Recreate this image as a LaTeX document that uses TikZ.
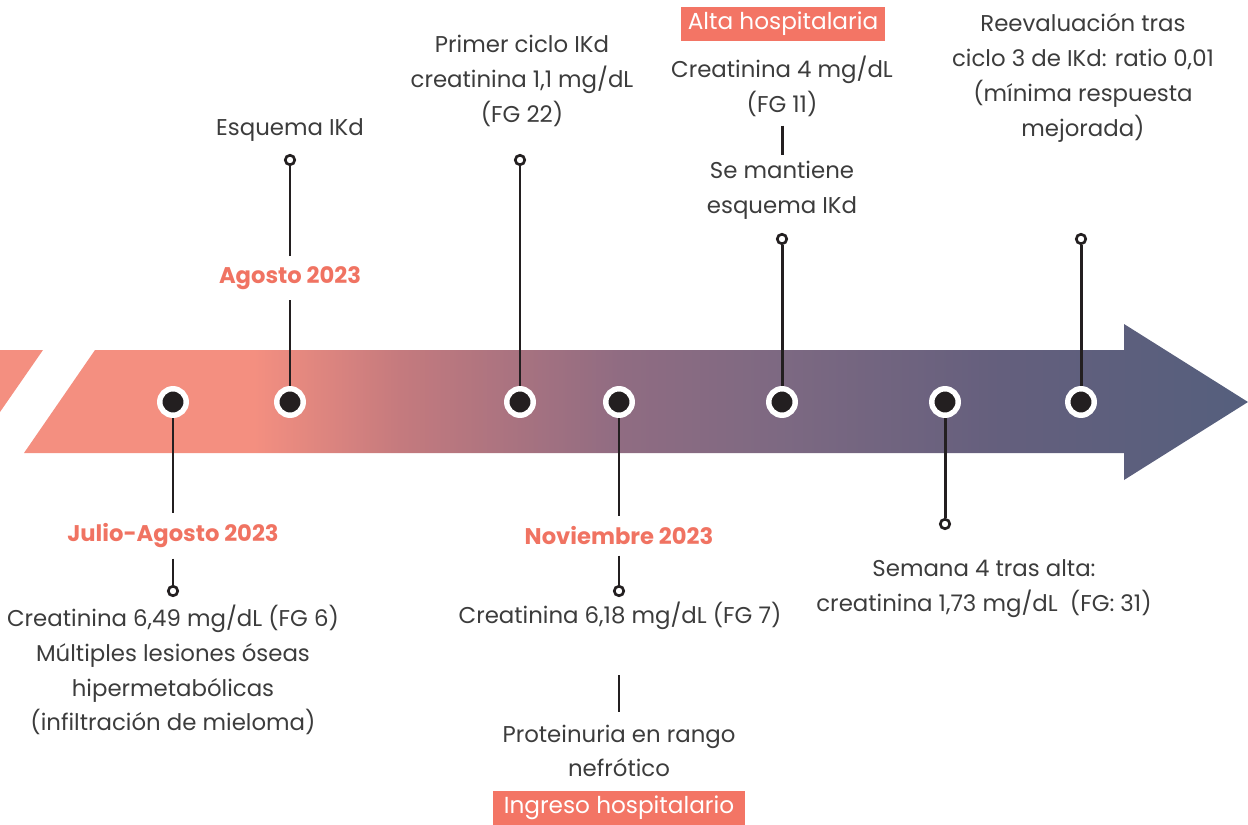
\documentclass[tikz,border=0pt]{standalone}
\usepackage{fontspec}
\setmainfont{Poppins}
\usetikzlibrary{backgrounds}

\definecolor{salmon}{RGB}{244,143,128}
\definecolor{rose}{RGB}{196,122,126}
\definecolor{mauve}{RGB}{144,108,130}
\definecolor{plum}{RGB}{125,105,130}
\definecolor{dusk}{RGB}{100,95,125}
\definecolor{slate}{RGB}{85,95,125}
\definecolor{ink}{RGB}{35,31,32}
\definecolor{txtgray}{RGB}{60,60,60}
\definecolor{datecol}{RGB}{240,115,98}
\definecolor{tagcol}{RGB}{243,117,101}

\pgfdeclarehorizontalshading{band}{100bp}{color(0bp)=(salmon); color(34.4bp)=(salmon); color(40.4bp)=(rose); color(49.3bp)=(mauve); color(55.9bp)=(plum); color(64.9bp)=(dusk); color(75bp)=(slate); color(100bp)=(slate)}

\tikzset{
  dot/.style={circle, draw=white, line width=3.1pt, fill=ink, minimum size=0.53cm, inner sep=0pt},
  tip/.style={circle, draw=ink, line width=1.5pt, fill=white, minimum size=0.19cm, inner sep=0pt},
  txt/.style={text=txtgray, font=\fontsize{13}{19.8}\selectfont, align=center, inner sep=0pt},
  date/.style={text=datecol, font=\fontsize{12.9}{14}\selectfont\bfseries, inner xsep=0pt, inner ysep=0.2cm},
  tag/.style={fill=tagcol, text=white, font=\fontsize{13.2}{14}\selectfont, minimum height=0.68cm, inner sep=0pt},
  stem/.style={draw=ink, line width=1.7pt}
}

\begin{document}
\begin{tikzpicture}[x=0.02cm, y=-0.02cm]
\useasboundingbox (0,0) rectangle (1248,825);

% band
\begin{scope}[on background layer]
\fill[salmon] (0,350) -- (43,350) -- (0,412) -- cycle;
\shade[shading=band] (95,350) -- (1124,350) -- (1124,324) -- (1248,402) -- (1124,480) -- (1124,453) -- (24,453) -- cycle;
\end{scope}

\node[dot] (d1) at (173,402) {};
\node[dot] (d2) at (290,402) {};
\node[dot] (d3) at (520,402) {};
\node[dot] (d4) at (619,402) {};
\node[dot] (d5) at (782,402) {};
\node[dot] (d6) at (945,402) {};
\node[dot] (d7) at (1081,402) {};

\node[tip] (t1) at (173,591) {};
\node[tip] (t2) at (290,160) {};
\node[tip] (t3) at (520,160) {};
\node[tip] (t4) at (619,591) {};
\node[tip] (t5) at (782,239) {};
\node[tip] (t6) at (945,524) {};
\node[tip] (t7) at (1081,239) {};

\node[date] (jul) at (173,536) {Julio-Agosto 2023};
\node[date] (ago) at (290,278) {Agosto 2023};
\node[date] (nov) at (619,536) {Noviembre 2023};

\node[txt] (lesiones) at (173,670) {Creatinina 6,49 mg/dL (FG 6)\\Múltiples lesiones óseas\\hipermetabólicas\\(infiltración de mieloma)};
\node[txt] (esquema) at (290,130) {Esquema IKd};
\node[txt] (ciclo) at (522,81) {Primer ciclo IKd\\creatinina 1,1 mg/dL\\(FG 22)};
\node[txt] (creat) at (620,616) {Creatinina 6,18 mg/dL (FG 7)};
\node[txt] (prot) at (619,751) {Proteinuria en rango\\nefrótico};
\node[tag, minimum width=5.04cm] (ingreso) at (619,808) {Ingreso hospitalario};
\node[tag, minimum width=4.1cm] (alta) at (783,24) {Alta hospitalaria};
\node[txt] (alta4) at (782,86) {Creatinina 4 mg/dL\\(FG 11)};
\node[txt] (mantiene) at (782,190) {Se mantiene\\esquema IKd};
\node[txt] (semana) at (984,589) {Semana 4 tras alta:\\creatinina 1,73 mg/dL\ \ (FG: 31)};
\node[txt] (reev) at (1083,78) {Reevaluación tras\\ciclo 3 de IKd: ratio 0,01\\(mínima respuesta\\mejorada)};

\coordinate (p1) at (619,675);
\coordinate (p2) at (619,712);

\begin{scope}[on background layer]
\draw[stem] (d1) -- (jul.north);
\draw[stem] (jul.south) -- (t1);
\draw[stem] (d2) -- (ago.south);
\draw[stem] (ago.north) -- (t2);
\draw[stem] (d3) -- (t3);
\draw[stem] (d4) -- (nov.north);
\draw[stem] (nov.south) -- (t4);
\draw[stem] (d5) -- (t5);
\draw[stem] (d6) -- (t6);
\draw[stem] (d7) -- (t7);
\draw[stem] ([yshift=-0.18cm]alta4.south) -- ([yshift=0.12cm]mantiene.north);
\draw[stem] (p1) -- (p2);
\end{scope}
\end{tikzpicture}
\end{document}
